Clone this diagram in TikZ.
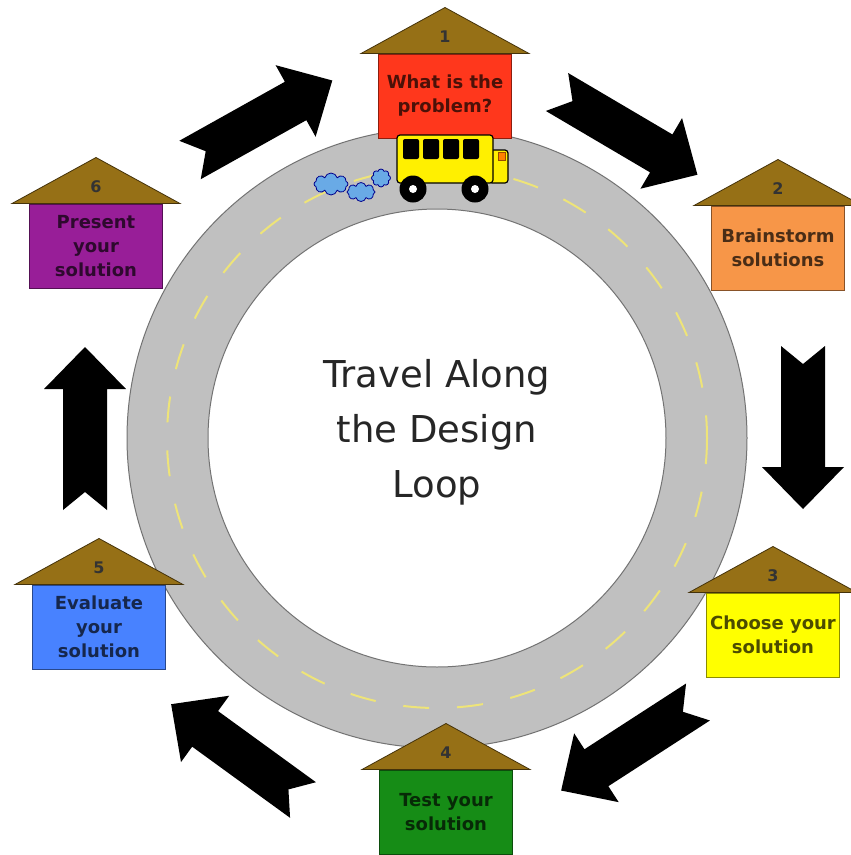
\documentclass[tikz,border=0pt]{standalone}
\usepackage{fontspec}
\setmainfont{DejaVu Sans}
\usetikzlibrary{calc,shapes.symbols}

\definecolor{roofbrown}{RGB}{150,112,22}
\definecolor{roadgray}{RGB}{192,192,192}
\definecolor{lineyellow}{RGB}{238,228,120}
\definecolor{busyellow}{RGB}{255,240,0}
\definecolor{puffblue}{RGB}{105,170,230}
\definecolor{probred}{RGB}{255,55,28}
\definecolor{brainorange}{RGB}{247,150,72}
\definecolor{chooseyellow}{RGB}{255,255,0}
\definecolor{testgreen}{RGB}{22,140,22}
\definecolor{evalblue}{RGB}{72,130,255}
\definecolor{presentpurple}{RGB}{152,30,152}

\tikzset{
  house/.style={draw=#1!55!black, fill=#1, text=#1!30!black, line width=1pt,
    minimum width=133pt, minimum height=84pt, inner sep=1pt, align=center,
    font=\bfseries\fontsize{18}{24}\selectfont},
  roof/.style={draw=roofbrown!45!black, fill=roofbrown, line width=0.8pt},
  puff/.style={cloud, cloud puffs=8, draw=blue!55!black, fill=puffblue,
    line width=0.8pt, inner sep=0pt},
  loop arrow/.pic={
    \fill[black] (0,22) -- (121,22) -- (121,41) -- (163,0) -- (121,-41)
      -- (121,-22) -- (0,-22) -- (18,0) -- cycle;
  }
}

% roof and step number on top of a house box
\newcommand{\houseroof}[2]{%
  \filldraw[roof] ($(#1.north west)+(-17,0)$) -- ($(#1.north)+(0,-46)$)
    -- ($(#1.north east)+(17,0)$) -- cycle;
  \node[font=\bfseries\fontsize{16}{16}\selectfont, text=black!80] (#1num)
    at ($(#1.north)+(0,-17)$) {#2};
}

\begin{document}
\begin{tikzpicture}[x=1pt,y=-1pt]

\fill[white] (0,0) rectangle (851,855);
\useasboundingbox (0,0) rectangle (851,855);

% the road
\coordinate (c) at (437,438);
\filldraw[draw=black!55, fill=roadgray, line width=1pt] (c) circle[radius=310];
\filldraw[draw=black!55, fill=white, line width=1pt] (c) circle[radius=229];
\draw[lineyellow, line width=2pt, dash pattern=on 26pt off 28pt] (c) circle[radius=270];

\node[align=center, text=black!85, font=\fontsize{37}{55}\selectfont] (title) at (437,432)
  {Travel Along\\the Design\\Loop};

% the six steps
\node[house=probred] (h1) at (445,96) {What is the\\problem?};
\node[house=brainorange] (h2) at (778,248) {Brainstorm\\solutions};
\node[house=chooseyellow] (h3) at (773,635) {Choose your\\solution};
\node[house=testgreen] (h4) at (446,812) {Test your\\solution};
\node[house=evalblue] (h5) at (99,627) {Evaluate\\your\\solution};
\node[house=presentpurple] (h6) at (96,246) {Present\\your\\solution};

\houseroof{h1}{1}
\houseroof{h2}{2}
\houseroof{h3}{3}
\houseroof{h4}{4}
\houseroof{h5}{5}
\houseroof{h6}{6}

% arrows between the steps
\pic[rotate=29.2] at (190,160) {loop arrow};
\pic[rotate=-30.5] at (557,92) {loop arrow};
\pic[rotate=-90] at (803,346) {loop arrow};
\pic[rotate=-147.1] at (698,702) {loop arrow};
\pic[rotate=144] at (303,800) {loop arrow};
\pic[rotate=90] at (85,510) {loop arrow};

% the bus
\filldraw[fill=busyellow, draw=black, line width=1.2pt, rounded corners=3pt] (489,150) rectangle (508,183);
\filldraw[fill=orange, draw=orange!60!black, line width=0.5pt] (498,152) rectangle (505,160);
\filldraw[fill=busyellow, draw=black, line width=1.2pt, rounded corners=3pt] (397,135) rectangle (493,183);
\foreach \x in {403,423,443,463}
  \fill[black, rounded corners=2pt] (\x,139) rectangle ++(16,20);
\foreach \x in {413,475} {
  \fill[black] (\x,189) circle[radius=13.5];
  \fill[white] (\x,189) circle[radius=4];
}

% exhaust puffs
\node[puff, minimum width=34pt, minimum height=22pt] (p1) at (331,184) {};
\node[puff, minimum width=28pt, minimum height=19pt] (p2) at (361,192) {};
\node[puff, minimum width=19pt, minimum height=18pt] (p3) at (381,178) {};

\end{tikzpicture}
\end{document}
